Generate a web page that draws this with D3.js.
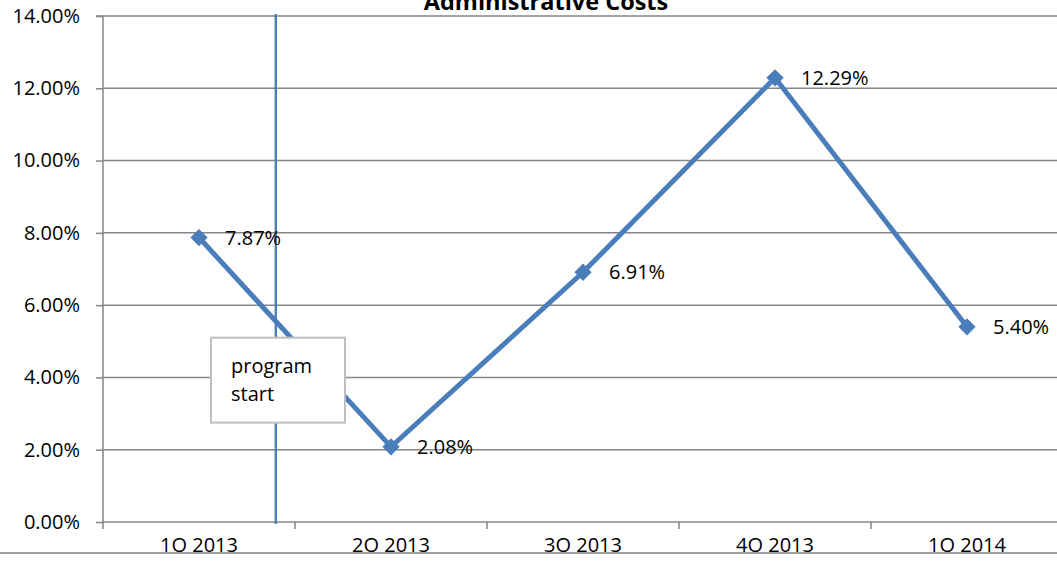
<!DOCTYPE html>
<html><head><meta charset="utf-8">
<script src="https://cdn.jsdelivr.net/npm/d3@7/dist/d3.min.js"></script>
<style>
body{margin:0;background:#fff;}
svg{display:block;font-family:"Open Sans",sans-serif;}
</style></head>
<body><svg id="c" width="1057" height="561"></svg>
<script>
const categories = ["1Q 2013","2Q 2013","3Q 2013","4Q 2013","1Q 2014"];
const values = [7.87, 2.08, 6.91, 12.29, 5.40];
const yTicks = [0,2,4,6,8,10,12,14];
const title = "Administrative Costs";
const annotation = ["program","start"];

const svg = d3.select("#c");
const pLeft = 103, pRight = 1063, pTop = 16, pBottom = 522;
const x = d3.scaleBand().domain(categories).range([pLeft, pRight]);
const y = d3.scaleLinear().domain([0,14]).range([pBottom, pTop]);
const grid = "#868686", blue = "#4A7EBB";
const fs = "20px";

svg.append("defs").append("clipPath").attr("id","clip")
  .append("rect").attr("x",0).attr("y",0).attr("width",1057).attr("height",552);
const g = svg.append("g").attr("clip-path","url(#clip)");

// gridlines
g.selectAll(".grid").data(yTicks).join("line")
  .attr("x1", pLeft).attr("x2", 1057)
  .attr("y1", d=>y(d)).attr("y2", d=>y(d))
  .attr("stroke", grid).attr("stroke-width", 1.5);

// y axis
const yAxis = d3.axisLeft(y).tickValues(yTicks).tickSize(7).tickPadding(16)
  .tickFormat(d=>d.toFixed(2)+"%");
const ya = g.append("g").attr("transform",`translate(${pLeft},0)`).call(yAxis);
ya.select(".domain").attr("stroke",grid).attr("stroke-width",1.5).attr("d",`M-7,${pTop}H0V${pBottom}`);
ya.selectAll(".tick line").attr("stroke",grid).attr("stroke-width",1.5);
ya.selectAll(".tick text").attr("fill","#000").style("font-size",fs).style("font-family","'Open Sans',sans-serif");

// x axis
const xAxis = d3.axisBottom(x).tickSize(0).tickPadding(16);
const xa = g.append("g").attr("transform",`translate(0,${pBottom})`).call(xAxis);
xa.select(".domain").remove();
xa.selectAll(".tick text").attr("fill","#000").style("font-size",fs).style("font-family","'Open Sans',sans-serif");
const bounds = categories.map(c=>x(c)).concat([pRight]);
g.selectAll(".xt").data(bounds).join("line")
  .attr("x1",d=>d).attr("x2",d=>d).attr("y1",pBottom).attr("y2",pBottom+7)
  .attr("stroke",grid).attr("stroke-width",1.5);

// vertical program start line
const vx = x(categories[0]) + x.bandwidth()*0.9;
g.append("line").attr("x1",vx).attr("x2",vx).attr("y1",14).attr("y2",pBottom+2)
  .attr("stroke",blue).attr("stroke-width",2.4);

// series line
const cx = d => x(d.c) + x.bandwidth()/2;
const pts = categories.map((c,i)=>({c, v: values[i]}));
g.append("path").datum(pts)
  .attr("d", d3.line().x(cx).y(d=>y(d.v)))
  .attr("fill","none").attr("stroke",blue).attr("stroke-width",5);
g.selectAll(".mk").data(pts).join("path")
  .attr("transform", d=>`translate(${cx(d)},${y(d.v)})`)
  .attr("d", d3.symbol(d3.symbolDiamond2, 190)())
  .attr("fill",blue);
g.selectAll(".lbl").data(pts).join("text")
  .attr("x", d=>cx(d)+26).attr("y", d=>y(d.v)+7)
  .attr("fill","#000").style("font-size",fs)
  .text(d=>d.v.toFixed(2)+"%");

// annotation box
const bx = 211, by = y(5.1), bw = 134, bh = y(2.75)-y(5.1);
g.append("rect").attr("x",bx).attr("y",by).attr("width",bw).attr("height",bh)
  .attr("fill","#fff").attr("stroke","#bfbfbf").attr("stroke-width",2);
g.selectAll(".ann").data(annotation).join("text")
  .attr("x", bx+20).attr("y",(d,i)=>by+35+i*28)
  .attr("fill","#000").style("font-size",fs).text(d=>d);

// title
g.append("text").attr("x", 546).attr("y", 10).attr("text-anchor","middle")
  .style("font-size","23.5px").style("font-weight","bold").attr("fill","#000").text(title);

// bottom border line
svg.append("line").attr("x1",0).attr("x2",1057).attr("y1",553).attr("y2",553)
  .attr("stroke","#a0a0a0").attr("stroke-width",2);
</script></body></html>
